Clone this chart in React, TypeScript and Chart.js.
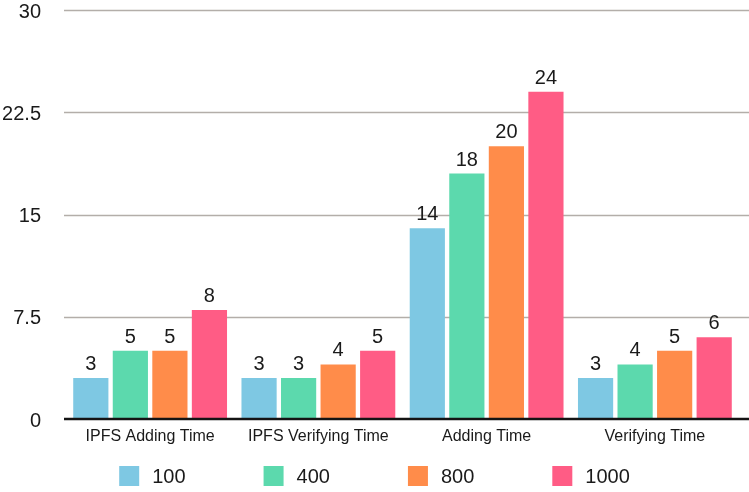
import React, { useEffect, useRef } from "react";
import { Chart, registerables } from "chart.js";

Chart.register(...registerables);

const categories = ["IPFS Adding Time", "IPFS Verifying Time", "Adding Time", "Verifying Time"];
const seriesNames = ["100", "400", "800", "1000"];
const values100 = [3, 3, 14, 3];
const values400 = [5, 3, 18, 4];
const values800 = [5, 4, 20, 5];
const values1000 = [8, 5, 24, 6];
const colors = ["#7ec8e3", "#5cd9ad", "#ff8c4a", "#ff5c85"];
const yTicks = [0, 7.5, 15, 22.5, 30];
const yTickLabels = ["0", "7.5", "15", "22.5", "30"];

const FONT = "'Liberation Sans', Arial, Helvetica, sans-serif";
const TEXT = "#1a1a1a";

const gridPlugin = {
  id: "customGrid",
  beforeDatasetsDraw(chart: any) {
    const ctx = chart.ctx;
    const y = chart.scales.y;
    ctx.save();
    yTicks.forEach((v, i) => {
      const py = y.getPixelForValue(v);
      if (v !== 0) {
        const ly = Math.round(py) + 0.5;
        ctx.strokeStyle = "#b3aea9";
        ctx.lineWidth = 1.5;
        ctx.beginPath();
        ctx.moveTo(64, ly);
        ctx.lineTo(chart.width, ly);
        ctx.stroke();
      }
      ctx.fillStyle = TEXT;
      ctx.font = `20px ${FONT}`;
      ctx.textAlign = "right";
      ctx.textBaseline = "middle";
      ctx.fillText(yTickLabels[i], 41, py + 2);
    });
    ctx.restore();
  },
  afterDatasetsDraw(chart: any) {
    const ctx = chart.ctx;
    const y = chart.scales.y;
    const py = y.getPixelForValue(0);
    ctx.save();
    ctx.strokeStyle = "#141414";
    ctx.lineWidth = 2.5;
    ctx.beginPath();
    ctx.moveTo(64, py);
    ctx.lineTo(chart.width, py);
    ctx.stroke();
    ctx.restore();
  },
};

const valueLabelPlugin = {
  id: "valueLabels",
  afterDatasetsDraw(chart: any) {
    const ctx = chart.ctx;
    ctx.save();
    ctx.font = `20px ${FONT}`;
    ctx.fillStyle = TEXT;
    ctx.textAlign = "center";
    ctx.textBaseline = "alphabetic";
    chart.data.datasets.forEach((ds: any, i: number) => {
      const meta = chart.getDatasetMeta(i);
      meta.data.forEach((bar: any, j: number) => {
        ctx.fillText(String(ds.data[j]), bar.x, bar.y - 8);
      });
    });
    ctx.restore();
  },
};

const legendPlugin = {
  id: "customLegend",
  afterDraw(chart: any) {
    const ctx = chart.ctx;
    ctx.save();
    ctx.font = `20px ${FONT}`;
    const box = 20;
    const gapText = 13;
    const gapItem = 78;
    const items = chart.data.datasets.map((ds: any) => ({
      label: ds.label,
      color: ds.backgroundColor,
      w: ctx.measureText(ds.label).width,
    }));
    const total =
      items.reduce((a: number, it: any) => a + box + gapText + it.w, 0) + gapItem * (items.length - 1);
    let x = chart.width / 2 - total / 2;
    const cy = 476;
    ctx.textBaseline = "middle";
    ctx.textAlign = "left";
    items.forEach((it: any) => {
      ctx.fillStyle = it.color;
      ctx.fillRect(x, cy - box / 2, box, box);
      ctx.fillStyle = TEXT;
      ctx.fillText(it.label, x + box + gapText, cy + 1);
      x += box + gapText + it.w + gapItem;
    });
    ctx.restore();
  },
};

export default function App() {
  const ref = useRef<HTMLCanvasElement>(null);
  useEffect(() => {
    const allValues = [values100, values400, values800, values1000];
    const chart = new Chart(ref.current!, {
      type: "bar",
      data: {
        labels: categories,
        datasets: allValues.map((v, i) => ({
          label: seriesNames[i],
          data: v,
          backgroundColor: colors[i],
          borderWidth: 0,
          categoryPercentage: 0.94,
          barPercentage: 0.89,
        })),
      },
      options: {
        animation: false,
        responsive: false,
        maintainAspectRatio: false,
        layout: { padding: { top: 10, right: 10, left: 0, bottom: 46 } },
        plugins: {
          tooltip: { enabled: false },
          legend: { display: false },
        },
        scales: {
          x: {
            grid: { display: false, drawTicks: false, tickLength: 0 },
            border: { display: false },
            afterFit: (s: any) => {
              s.height = 27;
            },
            ticks: { color: TEXT, font: { family: FONT, size: 16 }, padding: 8, maxRotation: 0, autoSkip: false },
          },
          y: {
            min: 0,
            max: 30,
            afterBuildTicks: (s: any) => {
              s.ticks = yTicks.map((v) => ({ value: v }));
            },
            afterFit: (s: any) => {
              s.width = 66;
            },
            border: { display: false },
            grid: { display: false, drawTicks: false },
            ticks: { display: false },
          },
        },
      },
      plugins: [gridPlugin, valueLabelPlugin, legendPlugin],
    });
    return () => chart.destroy();
  }, []);
  return (
    <div style={{ position: "fixed", left: 0, top: 0, width: 749, height: 492, background: "#fff" }}>
      <canvas ref={ref} width={749} height={492} style={{ display: "block" }} />
    </div>
  );
}
